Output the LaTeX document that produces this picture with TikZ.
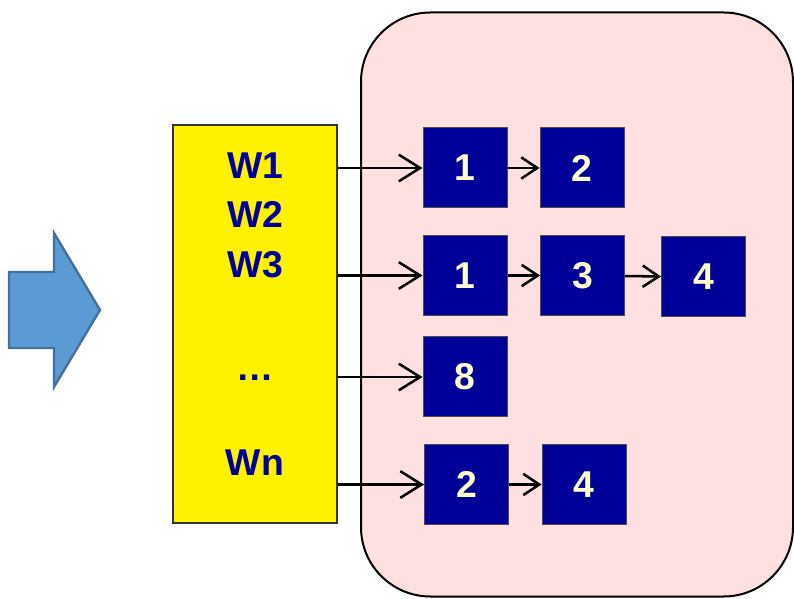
\documentclass[tikz,border=0pt]{standalone}
\usepackage{fontspec}
\setmainfont{Liberation Sans}
\usetikzlibrary{arrows.meta}
\definecolor{navy}{RGB}{0,0,153}
\definecolor{cream}{RGB}{255,255,204}
\definecolor{rosy}{RGB}{255,224,224}
\definecolor{arrowblue}{RGB}{91,155,213}
\definecolor{arrowedge}{RGB}{65,113,156}

\begin{document}
\begin{tikzpicture}[x=0.75pt,y=-0.75pt,
	cell/.style={draw=black!70, line width=0.75pt, fill=navy, text=cream, minimum width=63pt, minimum height=60pt, inner sep=0pt, font=\fontsize{28}{32}\selectfont\bfseries},
	word/.style={text=navy, inner sep=0pt, font=\fontsize{28}{32}\selectfont\bfseries},
	link/.style={-{Straight Barb[length=16pt,width=20pt]}, line width=1.9pt},
	hop/.style={-{Straight Barb[length=12pt,width=16pt]}, line width=1.9pt}]
				\useasboundingbox (0,0) rectangle (794,599);
				\draw[fill=arrowblue, draw=arrowedge, line width=1.8pt] (9,272) -- (54,272) -- (54,233) -- (100,310) -- (54,387) -- (54,348) -- (9,348) -- cycle;
				\node[draw, line width=1.5pt, fill=rosy, rounded corners=52pt, minimum width=324pt, minimum height=438pt] (table) at (577,304.5) {};
				\node[draw=black!80, line width=1pt, fill=yellow, minimum width=123pt, minimum height=298.5pt] (words) at (255,324) {};
				\node[word] (w1) at (255,166) {W1};
				\node[word] (w2) at (255,214) {W2};
				\node[word] (w3) at (255,265) {W3};
				\node[word] (wdots) at (255,378) {…};
				\node[word] (wn) at (255,463) {Wn};
				\node[cell] (b11) at (465,168) {1};
				\node[cell] (b12) at (582,168) {2};
				\node[cell] (b21) at (465,275.5) {1};
				\node[cell] (b22) at (582.5,275.5) {3};
				\node[cell] (b23) at (703.5,277) {4};
				\node[cell] (b31) at (465,377) {8};
				\node[cell] (b41) at (466.5,484.5) {2};
				\node[cell] (b42) at (584,484.5) {4};
				\draw[link] (words.east |- b11) -- (b11);
				\draw[link] (words.east |- b21) -- (b21);
				\draw[link] (words.east |- b31) -- (b31);
				\draw[link] (words.east |- b41) -- (b41);
				\draw[hop] (b11) -- (b12);
				\draw[hop] (b21) -- (b22);
				\draw[hop] (b22) -- (b23);
				\draw[hop] (b41) -- (b42);
			\end{tikzpicture}
\end{document}
